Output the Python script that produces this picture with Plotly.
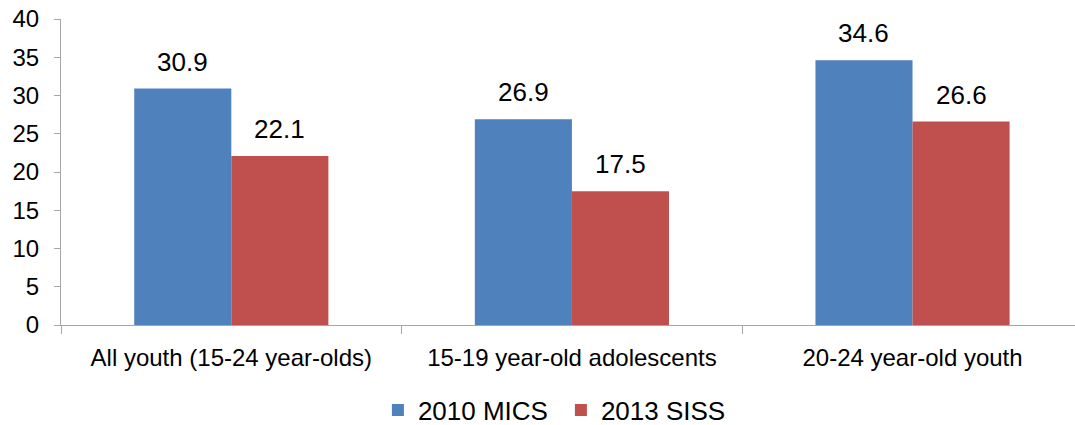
import plotly.graph_objects as go

categories = ["All youth (15-24 year-olds)", "15-19 year-old adolescents", "20-24 year-old youth"]
series_names = ["2010 MICS", "2013 SISS"]
mics_2010 = [30.9, 26.9, 34.6]
siss_2013 = [22.1, 17.5, 26.6]
colors = ["#4F81BD", "#C0504D"]

FONT = "Liberation Sans, Arial, sans-serif"
bargap = 0.43
bw = (1 - bargap) / 2

fig = go.Figure()
for name, vals, col in zip(series_names, [mics_2010, siss_2013], colors):
    fig.add_trace(go.Bar(x=categories, y=vals, name=name, marker=dict(color=col, line=dict(width=0))))

annotations = []
for si, vals in enumerate([mics_2010, siss_2013]):
    off = (si - 0.5) * bw
    for ci, v in enumerate(vals):
        annotations.append(dict(x=ci + off, y=v, xref="x", yref="y", text=f"{v:.1f}",
                                showarrow=False, yanchor="bottom", yshift=10,
                                font=dict(family=FONT, size=26, color="#000")))

fig.update_layout(
    width=1075, height=425,
    margin=dict(l=61, r=0, t=19, b=100, autoexpand=False),
    paper_bgcolor="white", plot_bgcolor="white",
    barmode="group", bargap=bargap, bargroupgap=0,
    font=dict(family=FONT, size=24, color="#000"),
    annotations=annotations,
    legend=dict(orientation="h", x=0.493, xanchor="center", yref="container", y=0.035, yanchor="middle",
                font=dict(family=FONT, size=26), itemwidth=30, entrywidth=138, traceorder="normal"),
    xaxis=dict(type="category", range=[-0.5, 2.477], tickson="boundaries", ticks="outside",
               ticklen=8, tickcolor="#A6A6A6", showline=True, linecolor="#A6A6A6", linewidth=1,
               showgrid=False, ticklabelstandoff=11, automargin=False,
               tickfont=dict(family=FONT, size=24, color="#000")),
    yaxis=dict(range=[0, 40], dtick=5, ticks="outside", ticklen=6, tickcolor="#A6A6A6",
               showline=True, linecolor="#A6A6A6", linewidth=1, showgrid=False, zeroline=False,
               ticklabelstandoff=10, automargin=False,
               tickfont=dict(family=FONT, size=24, color="#000")),
)

fig.write_html("out.html")
